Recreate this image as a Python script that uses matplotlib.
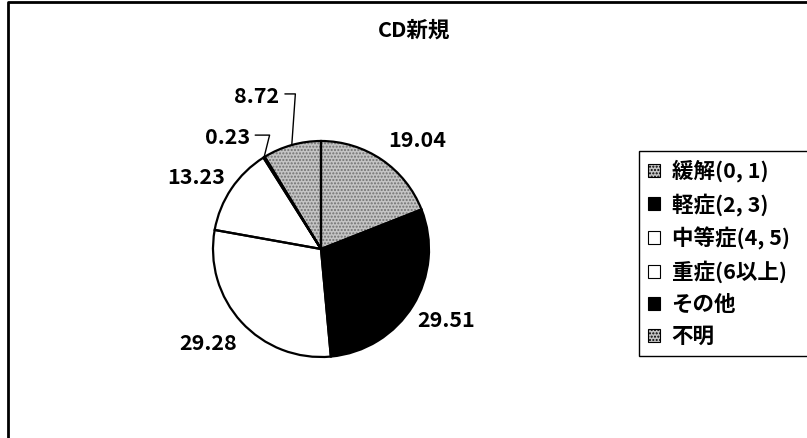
import numpy as np
import matplotlib.pyplot as plt
from matplotlib.patches import Patch
from matplotlib.lines import Line2D

plt.rcParams['font.family'] = ['Noto Sans CJK JP', 'DejaVu Sans']

# ----------------------------
# data
# ----------------------------
title = 'CD新規'
categories = ['緩解(0, 1)', '軽症(2, 3)', '中等症(4, 5)', '重症(6以上)', 'その他', '不明']
shares = [19.04, 29.51, 29.28, 13.23, 0.23, 8.72]
value_labels = ['19.04', '29.51', '29.28', '13.23', '0.23', '8.72']

face_colors = ['#c4c4c4', 'black', 'white', 'white', 'black', '#c4c4c4']
hatches = ['.....', None, None, None, None, '.....']

# label offsets from the rim point of each wedge (pixels, y up)
label_offsets = [(35, 19), (33, -15), (-33, -21), (-35, 11), (-37, 20), (-35, 49)]
leader = [False, False, False, False, True, True]
leader_angle = [0, 0, 0, 0, 76, 86]

FS = 15.5

W, H = 807, 438
fig = plt.figure(figsize=(W / 100, H / 100), dpi=100)
ax = fig.add_axes([0, 0, 1, 1])

cx, cy, R = 321, H - 249, 108

# ----------------------------
# pie
# ----------------------------
# fill (hatch colour comes from the edge colour, so no outline here)
wedges, _ = ax.pie(shares, colors=face_colors, startangle=90, counterclock=False,
                   center=(cx, cy), radius=R, frame=True,
                   wedgeprops=dict(linewidth=0, edgecolor='#707070'))
for w, h in zip(wedges, hatches):
    if h:
        w.set_hatch(h)

# black outlines on top
ax.pie(shares, startangle=90, counterclock=False, center=(cx, cy), radius=R, frame=True,
       wedgeprops=dict(fill=False, linewidth=1.6, edgecolor='black'))
ax.set_xlim(0, W)
ax.set_ylim(0, H)
ax.axis('off')

# value labels, small slices get a leader line
for w, txt, off, ld, ang in zip(wedges, value_labels, label_offsets, leader, leader_angle):
    mid = np.deg2rad((w.theta1 + w.theta2) / 2)
    rim = (cx + R * np.cos(mid), cy + R * np.sin(mid))
    if ld:
        ax.annotate(txt, xy=rim, xytext=off, textcoords='offset pixels',
                    ha='center', va='center', fontsize=FS, fontweight='bold',
                    arrowprops=dict(arrowstyle='-', lw=1.0, color='black',
                                    shrinkA=2, shrinkB=0, relpos=(1, 0.6),
                                    connectionstyle=f'angle,angleA=0,angleB={ang},rad=0'))
    else:
        ax.annotate(txt, xy=rim, xytext=off, textcoords='offset pixels',
                    ha='center', va='center', fontsize=FS, fontweight='bold')

fig.text(414 / W, 1 - 30 / H, title, ha='center', va='center', fontsize=FS, fontweight='bold')

# ----------------------------
# legend
# ----------------------------
handles = [Patch(facecolor=c, edgecolor='black', hatch=h, linewidth=0.8)
           for c, h in zip(face_colors, hatches)]
leg = fig.legend(handles, categories, loc='upper left',
                 bbox_to_anchor=(639 / W, 0, 260 / W, 1 - 151 / H),
                 bbox_transform=fig.transFigure, mode='expand', borderaxespad=0,
                 prop=dict(size=FS, weight='bold'), handlelength=0.56, handleheight=0.56,
                 handletextpad=0.55, labelspacing=0.5, borderpad=0.4,
                 fancybox=False, framealpha=1, edgecolor='black')
leg.get_frame().set_linewidth(1.0)

# outer chart border
fig.add_artist(Line2D([8 / W, 8 / W, 1], [0, 1 - 2 / H, 1 - 2 / H],
                      transform=fig.transFigure, color='black', lw=2))

fig.savefig('out.png', dpi=100)
